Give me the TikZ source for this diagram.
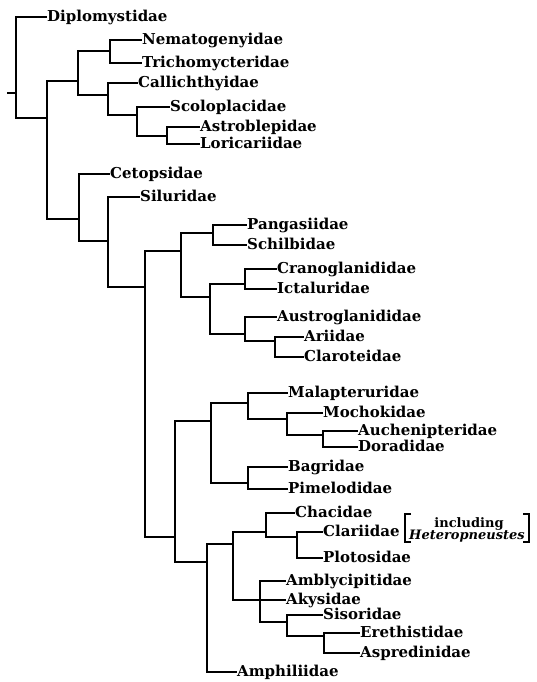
\documentclass[tikz,border=0pt]{standalone}
\usepackage{fontspec}
\setmainfont{DejaVu Serif}
\begin{document}
\begin{tikzpicture}[x=1pt,y=-1pt,
  leaf/.style={anchor=west,inner sep=0pt,font=\bfseries\fontsize{15}{17}\selectfont,text height=9.5pt,text depth=0pt},
  note/.style={anchor=base,inner sep=0pt,font=\bfseries\fontsize{13}{13}\selectfont},
  edge/.style={line width=1.1pt},
  brk/.style={line width=2.8pt}]
\useasboundingbox (0,0) rectangle (536,682);
% leaves
\node[leaf] (dip) at (47,17) {Diplomystidae};
\node[leaf] (nem) at (142,40) {Nematogenyidae};
\node[leaf] (tri) at (142,63) {Trichomycteridae};
\node[leaf] (cal) at (138,83) {Callichthyidae};
\node[leaf] (sco) at (170,107) {Scoloplacidae};
\node[leaf] (ast) at (200,127) {Astroblepidae};
\node[leaf] (lor) at (200,144) {Loricariidae};
\node[leaf] (cet) at (110,174) {Cetopsidae};
\node[leaf] (sil) at (140,197) {Siluridae};
\node[leaf] (pan) at (247,225) {Pangasiidae};
\node[leaf] (sch) at (247,245) {Schilbidae};
\node[leaf] (cra) at (277,269) {Cranoglanididae};
\node[leaf] (ict) at (277,289) {Ictaluridae};
\node[leaf] (aus) at (277,317) {Austroglanididae};
\node[leaf] (ari) at (304,337) {Ariidae};
\node[leaf] (cla) at (304,357) {Claroteidae};
\node[leaf] (mal) at (288,393) {Malapteruridae};
\node[leaf] (moc) at (323,413) {Mochokidae};
\node[leaf] (auc) at (358,431) {Auchenipteridae};
\node[leaf] (dor) at (358,447) {Doradidae};
\node[leaf] (bag) at (288,467) {Bagridae};
\node[leaf] (pim) at (288,489) {Pimelodidae};
\node[leaf] (cha) at (295,513) {Chacidae};
\node[leaf] (clr) at (323,532) {Clariidae};
\node[leaf] (plo) at (323,558) {Plotosidae};
\node[leaf] (amb) at (286,581) {Amblycipitidae};
\node[leaf] (aky) at (286,600) {Akysidae};
\node[leaf] (sis) at (323,615) {Sisoridae};
\node[leaf] (ere) at (360,633) {Erethistidae};
\node[leaf] (asp) at (360,653) {Aspredinidae};
\node[leaf] (amp) at (237,672) {Amphiliidae};
% bracket note
\node[note] (inc1) at (469,527) {including};
\node[note] (inc2) at (467,539.5) {\textit{Heteropneustes}};
\coordinate (bl1) at (411,514);
\coordinate (bl2) at (405,542);
\coordinate (bl3) at (411,542);
\coordinate (br1) at (523,514);
\coordinate (br2) at (529,542);
\coordinate (br3) at (523,542);
\draw[brk] (bl1) -| (bl2) -- (bl3);
\draw[brk] (br1) -| (br2) -- (br3);
% internal nodes
\coordinate (rs) at (7,93);
\coordinate (r) at (16,93);
\coordinate (n1) at (47,118);
\coordinate (n2) at (78,81);
\coordinate (n3) at (110,51);
\coordinate (n4) at (108,95);
\coordinate (n5) at (137,115);
\coordinate (n6) at (167,136);
\coordinate (n7) at (79,219);
\coordinate (n8) at (108,241);
\coordinate (n9) at (145,287);
\coordinate (n10) at (181,251);
\coordinate (n11) at (213,233);
\coordinate (n12) at (210,297);
\coordinate (n13) at (245,284);
\coordinate (n14) at (245,334);
\coordinate (n15) at (275,341);
\coordinate (n16) at (175,537);
\coordinate (n17) at (211,421);
\coordinate (n18) at (248,403);
\coordinate (n19) at (287,419);
\coordinate (n20) at (323,435);
\coordinate (n21) at (248,483);
\coordinate (n22) at (207,562);
\coordinate (n23) at (233,544);
\coordinate (n24) at (266,532);
\coordinate (n25) at (297,537);
\coordinate (n26) at (260,600);
\coordinate (n27) at (287,622);
\coordinate (n28) at (324,636);
% edges
\begin{scope}[edge]
\draw (rs) -- (r);
\draw (r) |- (dip.west); \draw (r) |- (n1);
\draw (n1) |- (n2); \draw (n1) |- (n7);
\draw (n2) |- (n3); \draw (n2) |- (n4);
\draw (n3) |- (nem.west); \draw (n3) |- (tri.west);
\draw (n4) |- (cal.west); \draw (n4) |- (n5);
\draw (n5) |- (sco.west); \draw (n5) |- (n6);
\draw (n6) |- (ast.west); \draw (n6) |- (lor.west);
\draw (n7) |- (cet.west); \draw (n7) |- (n8);
\draw (n8) |- (sil.west); \draw (n8) |- (n9);
\draw (n9) |- (n10); \draw (n9) |- (n16);
\draw (n10) |- (n11); \draw (n10) |- (n12);
\draw (n11) |- (pan.west); \draw (n11) |- (sch.west);
\draw (n12) |- (n13); \draw (n12) |- (n14);
\draw (n13) |- (cra.west); \draw (n13) |- (ict.west);
\draw (n14) |- (aus.west); \draw (n14) |- (n15);
\draw (n15) |- (ari.west); \draw (n15) |- (cla.west);
\draw (n16) |- (n17); \draw (n16) |- (n22);
\draw (n17) |- (n18); \draw (n17) |- (n21);
\draw (n18) |- (mal.west); \draw (n18) |- (n19);
\draw (n19) |- (moc.west); \draw (n19) |- (n20);
\draw (n20) |- (auc.west); \draw (n20) |- (dor.west);
\draw (n21) |- (bag.west); \draw (n21) |- (pim.west);
\draw (n22) |- (n23); \draw (n22) |- (amp.west);
\draw (n23) |- (n24); \draw (n23) |- (n26);
\draw (n24) |- (cha.west); \draw (n24) |- (n25);
\draw (n25) |- (clr.west); \draw (n25) |- (plo.west);
\draw (n26) |- (amb.west); \draw (n26) |- (aky.west); \draw (n26) |- (n27);
\draw (n27) |- (sis.west); \draw (n27) |- (n28);
\draw (n28) |- (ere.west); \draw (n28) |- (asp.west);
\end{scope}
\end{tikzpicture}
\end{document}
